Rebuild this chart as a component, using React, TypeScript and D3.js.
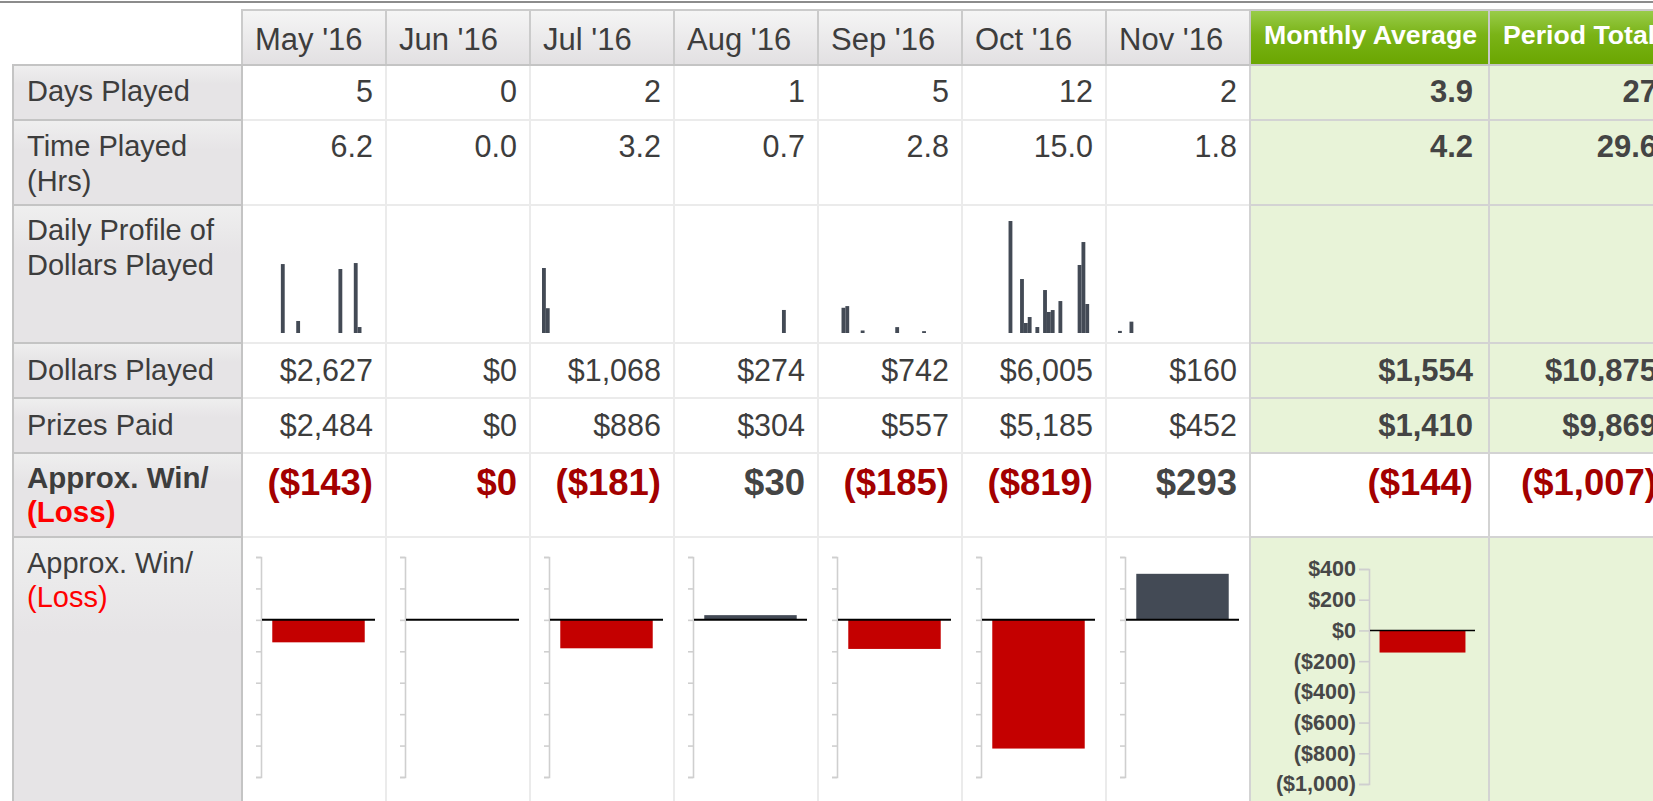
import { useEffect, useRef } from "react";
import * as d3 from "d3";

const months = ["May '16", "Jun '16", "Jul '16", "Aug '16", "Sep '16", "Oct '16", "Nov '16"];
const daysPlayed = [5, 0, 2, 1, 5, 12, 2];
const timePlayed = [6.2, 0.0, 3.2, 0.7, 2.8, 15.0, 1.8];
const dollarsPlayed = [2627, 0, 1068, 274, 742, 6005, 160];
const prizesPaid = [2484, 0, 886, 304, 557, 5185, 452];
const winLoss = [-143, 0, -181, 30, -185, -819, 293];

// [day of month, dollars played that day]
const dailyDollars: [number, number][][] = [
  [[8, 820], [12, 143], [23, 761], [27, 832], [28, 71]],
  [],
  [[1, 773], [2, 295]],
  [[26, 274]],
  [[4, 300], [5, 320], [9, 30], [18, 70], [25, 22]],
  [[10, 1332], [13, 642], [14, 119], [15, 190], [17, 71], [19, 511], [20, 250], [21, 273], [23, 380], [28, 809], [29, 1082], [30, 345]],
  [[1, 25], [4, 135]],
];

const summaryHeaders = ["Monthly Average", "Period Total"];
const avgValues = { days: "3.9", time: "4.2", dollars: 1554, prizes: 1410, win: -144 };
const totalValues = { days: "27", time: "29.6", dollars: 10875, prizes: 9869, win: -1007 };

const winTicks = [400, 200, 0, -200, -400, -600, -800, -1000];
const dayIndex = d3.range(1, 32);

const FONT = "'Liberation Sans', Arial, Helvetica, sans-serif";
const TEXT = "#3d3d3d";
const DARK_RED = "#a30000";
const BAR = "#434a55";
const RED_BAR = "#c40000";

const money = d3.format(",");
const fmtMoney = (v: number) => `$${money(v)}`;
const fmtWin = (v: number) => (v < 0 ? `($${money(-v)})` : `$${money(v)}`);

const rows = {
  header: [10, 65],
  days: [65, 120],
  time: [120, 205],
  profile: [205, 343],
  dollars: [343, 398],
  prizes: [398, 453],
  win: [453, 537],
  chart: [537, 812],
};

export default function App() {
  const width = 1653;
  const height = 801;
  const axesRef = useRef<SVGGElement>(null);

  const xMonth = d3.scaleBand<string>().domain(months).range([242, 1250]);
  const avgX0 = 1250, avgX1 = 1489, totX0 = 1489, totX1 = 1672;

  // daily profile scale, shared by all months
  const yDaily = d3.scaleLinear().domain([0, 1400]).range([333, 215.3]);

  // mini win/loss scales
  const yMini = d3.scaleLinear().domain([-1000, 400]).range([777, 557]);
  const yAvg = d3.scaleLinear().domain([-1000, 400]).range([784, 569]);

  useEffect(() => {
    const g = d3.select(axesRef.current);
    g.selectAll("*").remove();
    months.forEach((m) => {
      const ax = g.append("g").attr("transform", `translate(${(xMonth(m) ?? 0) + 19},0)`);
      ax.call(d3.axisLeft(yMini).tickValues(winTicks).tickSize(5).tickFormat(() => ""));
      ax.selectAll("path, line").attr("stroke", "#cfcfcf").attr("stroke-width", 1.6);
    });
    const avgAx = g.append("g").attr("transform", `translate(1369,0)`);
    avgAx.call(
      d3.axisLeft(yAvg).tickValues(winTicks).tickSize(10).tickPadding(3).tickFormat((d) => fmtWin(d as number))
    );
    avgAx.selectAll("path, line").attr("stroke", "#cfcfcf").attr("stroke-width", 1.6);
    avgAx
      .selectAll("text")
      .attr("fill", "#474747")
      .attr("font-family", FONT)
      .attr("font-weight", "bold")
      .attr("font-size", 21.5);
  }, []);

  const labelCell = (r: number[], key: string) => (
    <rect key={key} x={13} y={r[0]} width={229} height={r[1] - r[0]} fill="url(#lblGray)" stroke="#c4c4c4" strokeWidth={2} />
  );

  const valueRows: { key: keyof typeof rows; values: string[]; avg: string; tot: string; base: number }[] = [
    { key: "days", values: daysPlayed.map(String), avg: avgValues.days, tot: totalValues.days, base: 102 },
    { key: "time", values: timePlayed.map((v) => v.toFixed(1)), avg: avgValues.time, tot: totalValues.time, base: 157 },
    { key: "dollars", values: dollarsPlayed.map(fmtMoney), avg: fmtMoney(avgValues.dollars), tot: fmtMoney(totalValues.dollars), base: 381 },
    { key: "prizes", values: prizesPaid.map(fmtMoney), avg: fmtMoney(avgValues.prizes), tot: fmtMoney(totalValues.prizes), base: 436 },
  ];

  return (
    <svg
      width={width}
      height={height}
      style={{ position: "absolute", left: 0, top: 0, background: "#fff" }}
      fontFamily={FONT}
    >
      <defs>
        <linearGradient id="hdrGray" x1="0" y1="0" x2="0" y2="1">
          <stop offset="0%" stopColor="#f5f5f5" />
          <stop offset="100%" stopColor="#e2e0e2" />
        </linearGradient>
        <linearGradient id="lblGray" x1="0" y1="0" x2="0" y2="1">
          <stop offset="0%" stopColor="#efefef" />
          <stop offset="35%" stopColor="#e6e4e6" />
          <stop offset="100%" stopColor="#e6e4e6" />
        </linearGradient>
        <linearGradient id="hdrGreen" x1="0" y1="0" x2="0" y2="1">
          <stop offset="0%" stopColor="#9acd4b" />
          <stop offset="45%" stopColor="#7ab317" />
          <stop offset="100%" stopColor="#6aa600" />
        </linearGradient>
      </defs>

      {/* top rule */}
      <rect x={0} y={1} width={width} height={2} fill="#8c8c8c" />

      {/* green summary background */}
      <rect x={avgX0} y={rows.days[0]} width={totX1 - avgX0} height={rows.win[0] - rows.days[0]} fill="#e8f3d8" />
      <rect x={avgX0} y={rows.chart[0]} width={totX1 - avgX0} height={rows.chart[1] - rows.chart[0]} fill="#e8f3d8" />

      {/* month data grid */}
      {months.map((m) =>
        Object.entries(rows)
          .filter(([k]) => k !== "header")
          .map(([k, r]) => (
            <rect key={m + k} x={xMonth(m)} y={r[0]} width={xMonth.bandwidth()} height={r[1] - r[0]} fill="#fff" stroke="#ebebeb" strokeWidth={2} />
          ))
      )}
      {[
        [avgX0, avgX1],
        [totX0, totX1],
      ].map(([a, b], i) =>
        Object.entries(rows)
          .filter(([k]) => k !== "header")
          .map(([k, r]) => (
            <rect key={i + k} x={a} y={r[0]} width={b - a} height={r[1] - r[0]} fill={k === "win" ? "#fff" : "none"} stroke="#d3d3d3" strokeWidth={2} />
          ))
      )}

      {/* header */}
      {months.map((m) => (
        <g key={m}>
          <rect x={xMonth(m)} y={rows.header[0]} width={xMonth.bandwidth()} height={55} fill="url(#hdrGray)" stroke="#cbcbcb" strokeWidth={2} />
          <text x={(xMonth(m) ?? 0) + 13} y={50} fontSize={31} fill={TEXT}>
            {m}
          </text>
        </g>
      ))}
      {summaryHeaders.map((h, i) => {
        const x0 = i === 0 ? avgX0 : totX0;
        const x1 = i === 0 ? avgX1 : totX1;
        return (
          <g key={h}>
            <rect x={x0} y={rows.header[0]} width={x1 - x0} height={55} fill="url(#hdrGreen)" stroke="#c9c9c9" strokeWidth={2} />
            <text x={x0 + 14} y={44} fontSize={26.7} fontWeight="bold" fill="#fff">
              {h}
            </text>
          </g>
        );
      })}
      <line x1={242} x2={totX1} y1={65} y2={65} stroke="#c4c4c4" strokeWidth={2} />

      {/* label column */}
      {Object.entries(rows)
        .filter(([k]) => k !== "header")
        .map(([k, r]) => labelCell(r, k))}
      <g fontSize={29} fill={TEXT}>
        <text x={27} y={101}>Days Played</text>
        <text x={27} y={156}>Time Played</text>
        <text x={27} y={191}>(Hrs)</text>
        <text x={27} y={240}>Daily Profile of</text>
        <text x={27} y={275}>Dollars Played</text>
        <text x={27} y={380}>Dollars Played</text>
        <text x={27} y={435}>Prizes Paid</text>
        <text x={27} y={488} fontWeight="bold" fontSize={29.5}>Approx. Win/</text>
        <text x={27} y={522} fontWeight="bold" fontSize={29.5} fill="#ff0000">(Loss)</text>
        <text x={27} y={573}>Approx. Win/</text>
        <text x={27} y={607} fill="#ff0000">(Loss)</text>
      </g>

      {/* numeric rows */}
      {valueRows.map((row) => (
        <g key={row.key}>
          {row.values.map((v, i) => (
            <text key={i} x={(xMonth(months[i]) ?? 0) + xMonth.bandwidth() - 13} y={row.base} textAnchor="end" fontSize={30.5} fill={TEXT}>
              {v}
            </text>
          ))}
          <text x={avgX1 - 16} y={row.base} textAnchor="end" fontSize={31} fontWeight="bold" fill="#444">
            {row.avg}
          </text>
          <text x={1657} y={row.base} textAnchor="end" fontSize={31} fontWeight="bold" fill="#444">
            {row.tot}
          </text>
        </g>
      ))}

      {/* win / loss row */}
      <g fontSize={36.5} fontWeight="bold">
        {winLoss.map((v, i) => (
          <text key={i} x={(xMonth(months[i]) ?? 0) + xMonth.bandwidth() - 13} y={495} textAnchor="end" fill={v <= 0 ? DARK_RED : "#444"}>
            {fmtWin(v)}
          </text>
        ))}
        <text x={avgX1 - 16} y={495} textAnchor="end" fill={avgValues.win <= 0 ? DARK_RED : "#444"}>
          {fmtWin(avgValues.win)}
        </text>
        <text x={1657} y={495} textAnchor="end" fill={totalValues.win <= 0 ? DARK_RED : "#444"}>
          {fmtWin(totalValues.win)}
        </text>
      </g>

      {/* daily profile bars */}
      {dailyDollars.map((days, i) => {
        const cx = xMonth(months[i]) ?? 0;
        const xDay = d3.scaleBand<number>().domain(dayIndex).range([cx + 12, cx + 131]).padding(0);
        return (
          <g key={i}>
            {days.map(([d, v]) => (
              <rect key={d} x={xDay(d)} y={yDaily(v)} width={xDay.bandwidth()} height={yDaily(0) - yDaily(v)} fill={BAR} />
            ))}
          </g>
        );
      })}

      {/* mini win/loss charts */}
      <g ref={axesRef} />
      {winLoss.map((v, i) => {
        const ax = (xMonth(months[i]) ?? 0) + 19;
        const xb = d3.scaleBand<string>().domain(["w"]).range([ax + 1, ax + 114]).padding(0.1);
        return (
          <g key={i}>
            {v !== 0 && (
              <rect
                x={xb("w")}
                y={yMini(Math.max(0, v))}
                width={xb.bandwidth()}
                height={Math.abs(yMini(v) - yMini(0))}
                fill={v < 0 ? RED_BAR : BAR}
              />
            )}
            <line x1={ax + 1} x2={ax + 114} y1={yMini(0)} y2={yMini(0)} stroke="#000" strokeWidth={2} />
          </g>
        );
      })}
      {(() => {
        const v = avgValues.win;
        const xb = d3.scaleBand<string>().domain(["w"]).range([1370, 1475]).padding(0.1);
        return (
          <g>
            <rect x={xb("w")} y={yAvg(Math.max(0, v))} width={xb.bandwidth()} height={Math.abs(yAvg(v) - yAvg(0))} fill={v < 0 ? RED_BAR : BAR} />
            <line x1={1370} x2={1475} y1={yAvg(0)} y2={yAvg(0)} stroke="#000" strokeWidth={1.5} />
          </g>
        );
      })()}
    </svg>
  );
}
